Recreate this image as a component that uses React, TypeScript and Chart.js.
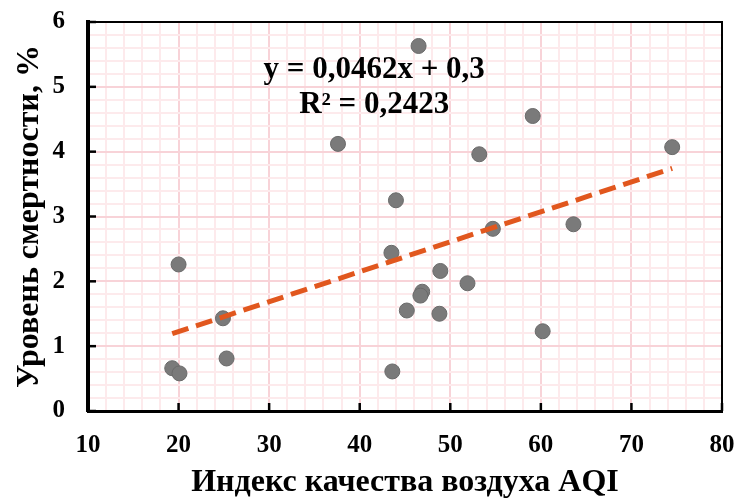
import React, { useEffect, useRef } from "react";
import { Chart, registerables } from "chart.js";

Chart.register(...registerables);

const aqiValues = [46.5, 37.6, 59.1, 53.2, 74.5, 44.0, 63.6, 54.7, 43.5, 20.0, 48.9, 51.9, 46.9, 46.7, 45.2, 48.8, 24.9, 60.2, 25.3, 19.3, 20.1, 43.6];
const mortalityValues = [5.63, 4.12, 4.55, 3.96, 4.07, 3.25, 2.88, 2.81, 2.44, 2.26, 2.16, 1.97, 1.84, 1.78, 1.55, 1.5, 1.43, 1.23, 0.81, 0.66, 0.58, 0.61];
const TREND_SLOPE = 0.0462;
const TREND_INTERCEPT = 0.3;
const equationLines = ["y = 0,0462x + 0,3", "R² = 0,2423"];
const xTitle = "Индекс качества воздуха AQI";
const yTitle = "Уровень смертности, %";

const FONT = "'Liberation Serif', 'Times New Roman', serif";

export default function App() {
  const ref = useRef<HTMLCanvasElement | null>(null);
  useEffect(() => {
    document.body.style.margin = "0";
    const canvas = ref.current;
    if (!canvas) return;
    const points = aqiValues.map((x, i) => ({ x, y: mortalityValues[i] }));
    const xMin = Math.min(...aqiValues);
    const xMax = Math.max(...aqiValues);
    const trend = [xMin, xMax].map((x) => ({ x, y: TREND_SLOPE * x + TREND_INTERCEPT }));
    const isInt = (v: number, step: number) => Math.abs(v / step - Math.round(v / step)) < 1e-6;
    const zeroPad = (scale: any) => {
      scale.paddingTop = 0;
      scale.paddingBottom = 0;
      scale.paddingLeft = 0;
      scale.paddingRight = 0;
    };

    const framePlugin = {
      id: "frame",
      afterDatasetsDraw(chart: any) {
        const { ctx, chartArea: a, scales } = chart;
        ctx.save();
        ctx.strokeStyle = "#000";
        ctx.lineWidth = 2;
        ctx.beginPath();
        ctx.moveTo(a.left, a.top);
        ctx.lineTo(a.right, a.top);
        ctx.lineTo(a.right, a.bottom);
        ctx.stroke();
        ctx.lineWidth = 2.5;
        for (let v = 0; v <= 6; v++) {
          const y = scales.y.getPixelForValue(v);
          ctx.beginPath();
          ctx.moveTo(a.left, y);
          ctx.lineTo(a.left + 8, y);
          ctx.stroke();
        }
        for (let v = 10; v <= 80; v += 10) {
          const x = scales.x.getPixelForValue(v);
          ctx.beginPath();
          ctx.moveTo(x, a.bottom);
          ctx.lineTo(x, a.bottom - 8);
          ctx.stroke();
        }
        ctx.fillStyle = "#000";
        ctx.font = `bold 31px ${FONT}`;
        ctx.textAlign = "center";
        ctx.textBaseline = "middle";
        const cx = scales.x.getPixelForValue(41.6);
        ctx.fillText(equationLines[0], cx, scales.y.getPixelForValue(5.26));
        ctx.fillText(equationLines[1], cx, scales.y.getPixelForValue(4.72));
        ctx.restore();
      },
    };

    const chart = new Chart(canvas, {
      type: "scatter",
      data: {
        datasets: [
          {
            type: "line",
            data: trend,
            borderColor: "#E1571E",
            borderWidth: 5,
            borderDash: [17, 8],
            pointRadius: 0,
            fill: false,
            order: 1,
          } as any,
          {
            data: points,
            backgroundColor: "#7a7a7a",
            borderColor: "#6a6a6a",
            borderWidth: 1,
            pointRadius: 7.5,
            order: 2,
          },
        ],
      },
      options: {
        responsive: false,
        animation: false,
        layout: { padding: { top: 22, right: 14, left: 0, bottom: 0 } },
        plugins: { legend: { display: false }, tooltip: { enabled: false } },
        scales: {
          x: {
            type: "linear",
            min: 10,
            max: 80,
            afterFit(scale: any) {
              scale.height = 88;
              zeroPad(scale);
            },
            ticks: {
              stepSize: 2,
              autoSkip: false,
              maxRotation: 0,
              padding: 20,
              color: "#000",
              font: { family: FONT, size: 25, weight: "bold" },
              callback: (v: any) => (isInt(v, 10) ? String(v) : ""),
            },
            grid: {
              drawTicks: false,
              color: (c: any) => (isInt(c.tick.value, 10) ? "#f8d3d8" : "#fdeaec"),
              lineWidth: 2,
            },
            border: { display: true, color: "#000", width: 3 },
            title: {
              display: true,
              text: xTitle,
              color: "#000",
              font: { family: FONT, size: 32, weight: "bold", lineHeight: 1 },
              padding: { top: 0, bottom: 0 },
            },
          },
          y: {
            type: "linear",
            min: 0,
            max: 6,
            afterFit(scale: any) {
              scale.width = 88;
              zeroPad(scale);
            },
            ticks: {
              stepSize: 0.2,
              autoSkip: false,
              padding: 23,
              color: "#000",
              font: { family: FONT, size: 25, weight: "bold" },
              callback: (v: any) => (isInt(v, 1) ? String(Math.round(v)) : ""),
            },
            grid: {
              drawTicks: false,
              color: (c: any) => (isInt(c.tick.value, 1) ? "#f8d3d8" : "#fdeaec"),
              lineWidth: 2,
            },
            border: { display: true, color: "#000", width: 4 },
            title: {
              display: true,
              text: yTitle,
              color: "#000",
              font: { family: FONT, size: 32, weight: "bold", lineHeight: 1 },
              padding: { top: 14, bottom: 0 },
            },
          },
        },
      },
      plugins: [framePlugin],
    });
    return () => chart.destroy();
  }, []);
  return <canvas ref={ref} width={736} height={499} style={{ display: "block" }} />;
}
